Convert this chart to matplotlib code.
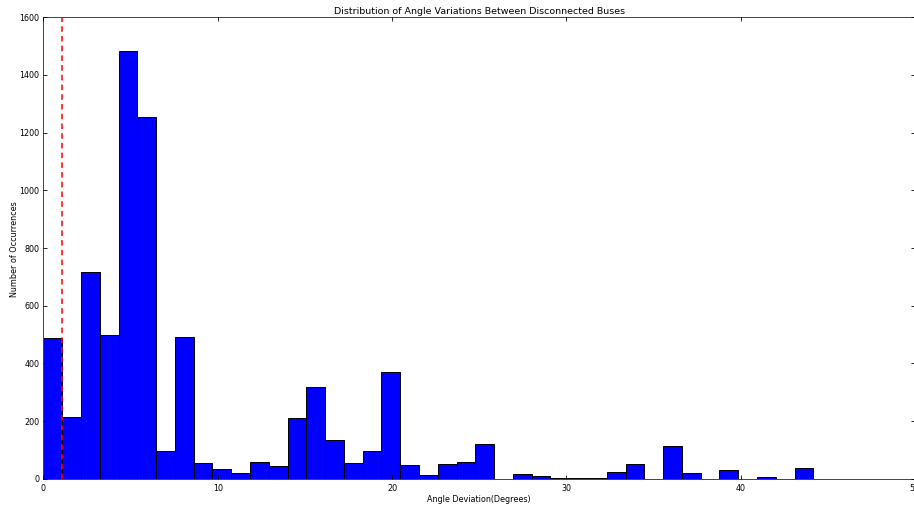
import numpy as np
import matplotlib
matplotlib.use('Agg')
import matplotlib.pyplot as plt

plt.style.use('classic')

# histogram counts, 42 equal bins from 0 to ~45.25
counts = [490, 214, 717, 497, 1484, 1255, 98, 493, 54, 36,
          22, 60, 44, 210, 317, 136, 55, 96, 370, 50,
          15, 52, 58, 121, 0, 16, 10, 2, 5, 5,
          25, 52, 0, 115, 21, 0, 30, 0, 6, 0,
          38, 1]
max_angle = 45.25
threshold = 1.06

edges = np.linspace(0, max_angle, len(counts) + 1)
centers = (edges[:-1] + edges[1:]) / 2

fig = plt.figure(figsize=(9.14, 5.06), dpi=100)
ax = fig.add_axes([0.0475, 0.0514, 0.9535, 0.913])
ax.hist(centers, bins=edges, weights=counts, color='b', edgecolor='k', linewidth=0.7)
ax.axvline(threshold, color='r', linestyle='--', linewidth=1.1, dashes=(4, 3))
ax.set_xlim(0, 50)
ax.set_ylim(0, 1600)
ax.set_title('Distribution of Angle Variations Between Disconnected Buses', fontsize=6.8, pad=3)
ax.set_xlabel('Angle Deviation(Degrees)', fontsize=5.8, labelpad=1)
ax.set_ylabel('Number of Occurrences', fontsize=5.8, labelpad=0)
ax.tick_params(labelsize=5.8, width=0.6, length=3, pad=3)
for s in ax.spines.values():
    s.set_linewidth(0.7)
    s.set_color('#444444')
fig.savefig('out.png', dpi=100)
